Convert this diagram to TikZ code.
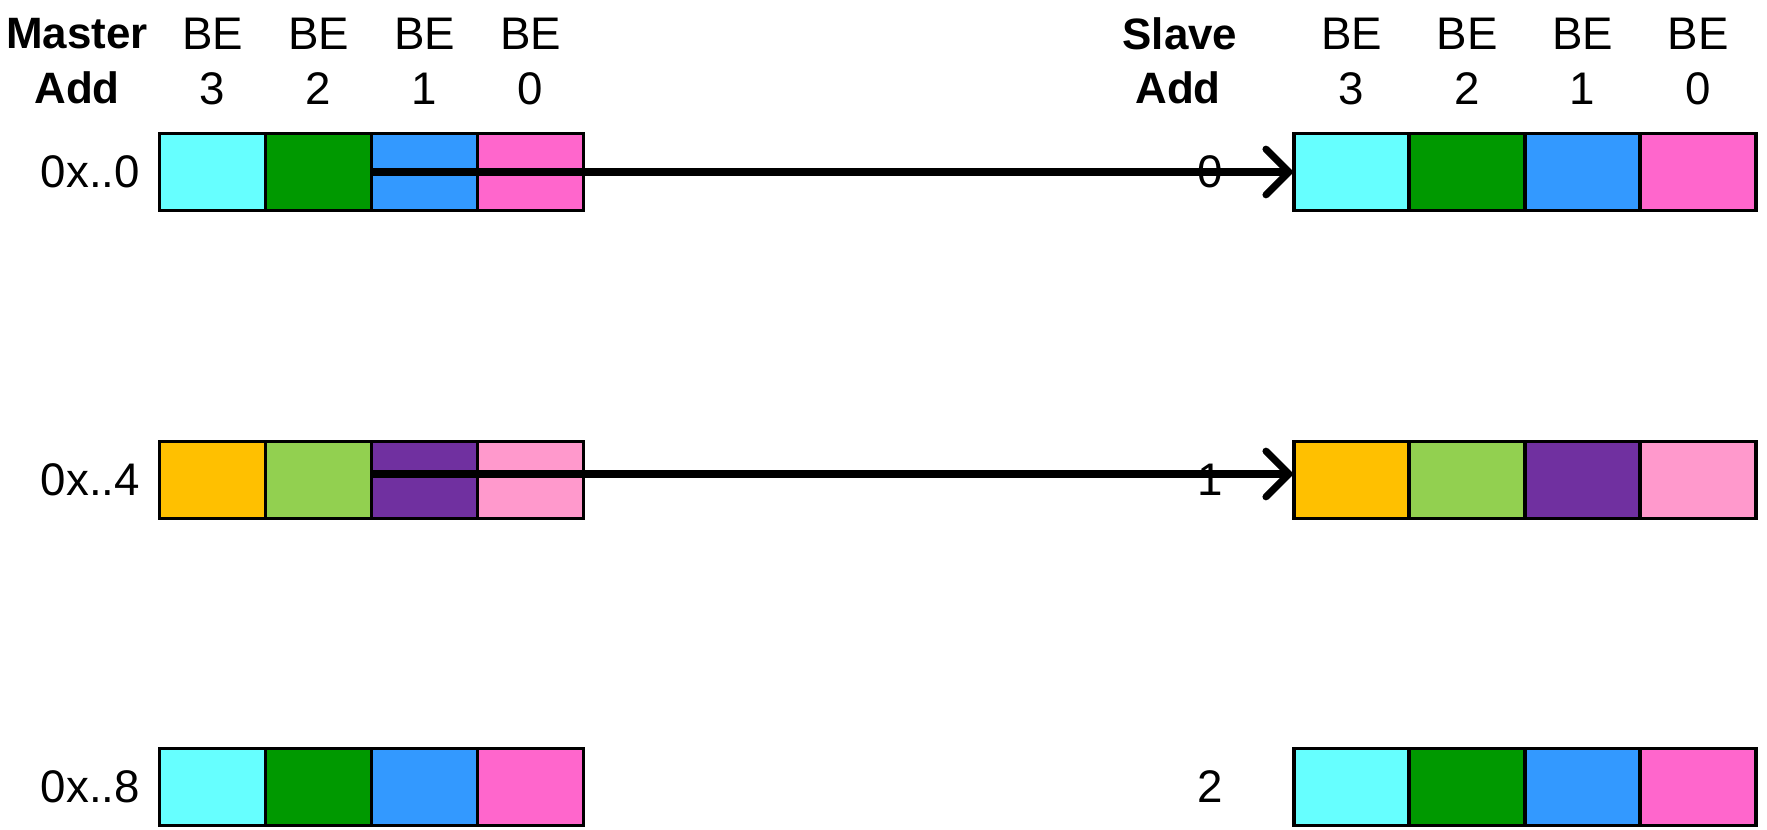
\documentclass[tikz,border=0pt]{standalone}
\usepackage{fontspec}
\setmainfont{Liberation Sans}
\usetikzlibrary{arrows.meta}
\definecolor{byteA3}{HTML}{66FFFF}
\definecolor{byteA2}{HTML}{009900}
\definecolor{byteA1}{HTML}{3399FF}
\definecolor{byteA0}{HTML}{FF66CC}
\definecolor{byteB3}{HTML}{FFC000}
\definecolor{byteB2}{HTML}{92D050}
\definecolor{byteB1}{HTML}{7030A0}
\definecolor{byteB0}{HTML}{FF99CC}

\begin{document}
\begin{tikzpicture}
[x=0.02cm,y=-0.02cm,%
  every node/.style={inner sep=0pt,outer sep=0pt,font=\fontsize{26}{30}\selectfont},%
  cell/.style={draw,line width=2.2pt,minimum height=1.54cm},%
  mcell/.style={cell,minimum width=2.12cm},%
  scell/.style={cell,minimum width=2.31cm},%
  hdr/.style={font=\fontsize{25}{30}\selectfont\bfseries},%
  move/.style={line width=4pt,-{Straight Barb[length=13pt,width=26pt,line cap=round]}}]
\useasboundingbox (0,0) rectangle (1767,830);
\node[hdr] (mhead) at (77,34) {Master};
\node[hdr] (madd) at (77,88) {Add};
\node[hdr] (shead) at (1180,34) {Slave};
\node[hdr] (sadd) at (1178,88) {Add};
\foreach \b [count=\i from 0] in {3,2,1,0} {
  \node (mbe\b) at (212.5+106*\i,34) {BE};
  \node (mnum\b) at (212.5+106*\i,89) {\b};
  \node (sbe\b) at (1351.5+115.5*\i,34) {BE};
  \node (snum\b) at (1351.5+115.5*\i,89) {\b};
}
\foreach \r/\y/\addr/\pal in {0/172/0/A, 1/480/4/B, 2/787/8/A} {
  \node[anchor=east] (maddr\r) at (140,\y) {0x..\addr};
  \node (saddr\r) at (1210,\y) {\r};
  \foreach \b [count=\i from 0] in {3,2,1,0} {
    \node[mcell,fill=byte\pal\b] (m\r-\b) at (212.5+106*\i,\y) {};
    \node[scell,fill=byte\pal\b] (s\r-\b) at (1351.5+115.5*\i,\y) {};
  }
}
\draw[move] (m0-1.west) -- (s0-3.west);
\draw[move] ([yshift=0.12cm]m1-1.west) -- ([yshift=0.12cm]s1-3.west);
\end{tikzpicture}
\end{document}
